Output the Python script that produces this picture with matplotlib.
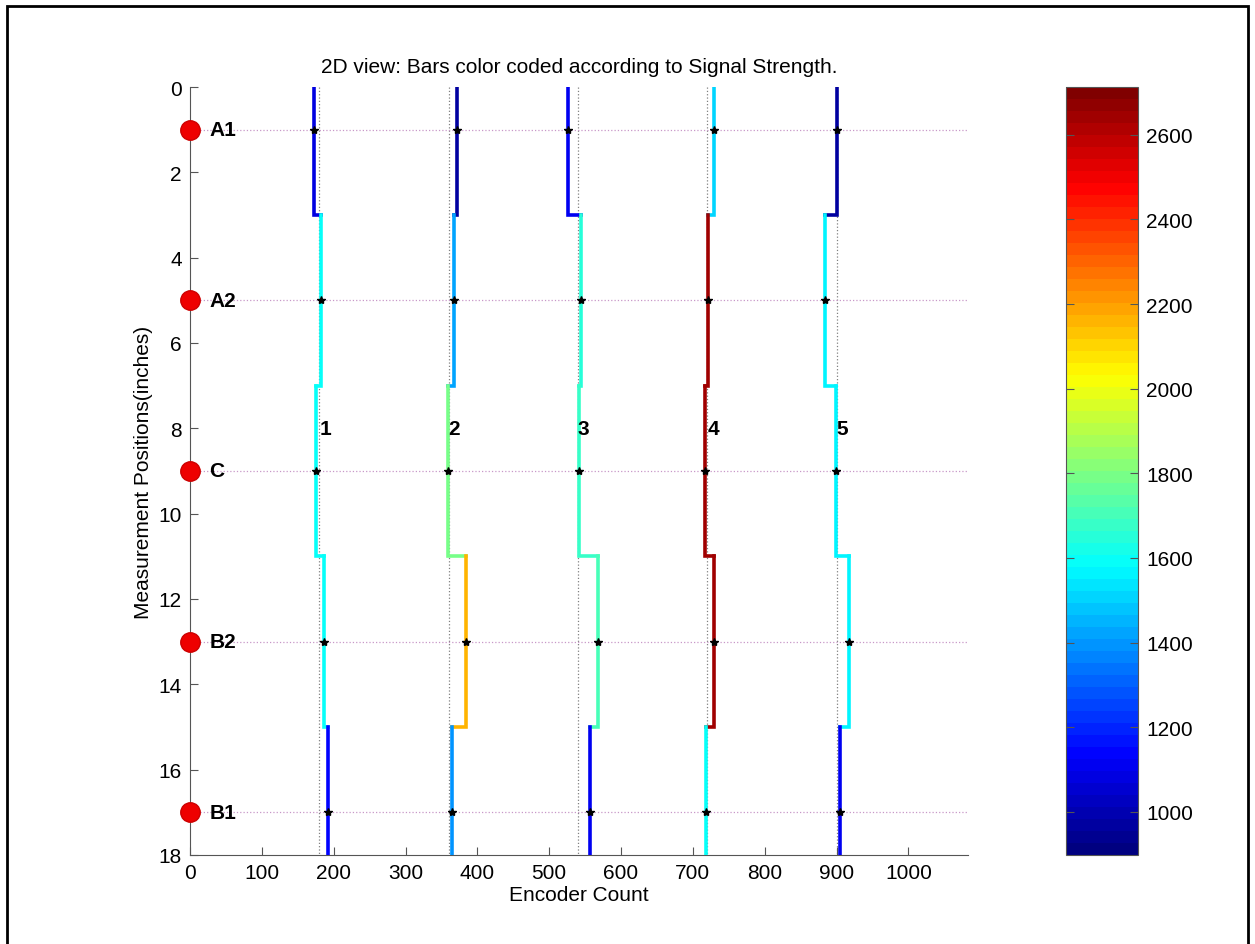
import matplotlib
matplotlib.use("Agg")
import matplotlib.pyplot as plt
from matplotlib.colors import LinearSegmentedColormap
from matplotlib.patches import Rectangle
import numpy as np

plt.rcParams['font.family'] = ['Liberation Sans', 'DejaVu Sans']

# measurement segment edges (inches) and marker positions
seg_edges = [0, 3, 7, 11, 15, 18]
meas_pos = [1, 5, 9, 13, 17]
meas_names = ["A1", "A2", "C", "B2", "B1"]

# nominal bar positions (encoder count) and bar labels
bar_nominal = [180, 360, 540, 720, 900]
bar_labels = ["1", "2", "3", "4", "5"]

# encoder count of each segment, per bar
bar1_x = [172, 183, 176, 187, 192]
bar2_x = [372, 367, 359, 384, 365]
bar3_x = [526, 544, 542, 568, 557]
bar4_x = [729, 721, 717, 729, 718]
bar5_x = [901, 884, 899, 918, 905]

# signal strength of each segment, per bar
bar1_s = [1090, 1590, 1600, 1600, 1130]
bar2_s = [975, 1420, 1800, 2150, 1400]
bar3_s = [1100, 1640, 1690, 1700, 1120]
bar4_s = [1520, 2650, 2650, 2650, 1600]
bar5_s = [965, 1560, 1560, 1570, 1110]

bars_x = [bar1_x, bar2_x, bar3_x, bar4_x, bar5_x]
bars_s = [bar1_s, bar2_s, bar3_s, bar4_s, bar5_s]

# MATLAB style jet, 64 levels
jet_nodes = [(0, (0, 0, 0.5)), (1/8, (0, 0, 1)), (3/8, (0, 1, 1)),
             (5/8, (1, 1, 0)), (7/8, (1, 0, 0)), (1, (0.5, 0, 0))]
cmap = LinearSegmentedColormap.from_list('mjet', jet_nodes, N=64)
cmin, cmax = 898, 2713
norm = matplotlib.colors.Normalize(cmin, cmax)

fig = plt.figure(figsize=(12.55, 9.45), dpi=100)
ax = fig.add_axes([190/1255, 89/945, 778/1255, 768/945])

# reference grid
for xv in bar_nominal:
    ax.plot([xv, xv], [0, 18], ls=':', color='#808080', lw=0.9, zorder=1)
for yv in meas_pos:
    ax.plot([0, 1083], [yv, yv], ls=':', color='#c898c8', lw=0.9, zorder=1)

# color coded bars
for xs, ss in zip(bars_x, bars_s):
    for i in range(len(xs)):
        c = cmap(norm(ss[i]))
        px = [xs[i], xs[i]]
        py = [seg_edges[i], seg_edges[i + 1]]
        if i < len(xs) - 1:
            px.append(xs[i + 1])
            py.append(seg_edges[i + 1])
        ax.plot(px, py, color=c, lw=2.6, solid_joinstyle='miter', zorder=3)
    ax.plot(xs, meas_pos, ls='none', marker='*', color='black', ms=6, zorder=4)

for xv, lab in zip(bar_nominal, bar_labels):
    ax.text(xv, 8, lab, fontsize=15, fontweight='bold', ha='left', va='center', zorder=5)

# measurement positions
ax.plot([0] * len(meas_pos), meas_pos, ls='none', marker='o', ms=14,
        mfc='#ee0000', mec='#cc0000', clip_on=False, zorder=6)
for yv, name in zip(meas_pos, meas_names):
    ax.text(27, yv, name, fontsize=15, fontweight='bold', ha='left', va='center')

ax.set_xlim(0, 1083)
ax.set_ylim(18, 0)
ax.set_xticks(np.arange(0, 1001, 100))
ax.set_yticks(np.arange(0, 19, 2))
for s in ['top', 'right']:
    ax.spines[s].set_visible(False)
for s in ['left', 'bottom']:
    ax.spines[s].set_color('#555555')
ax.tick_params(direction='in', length=6, color='#555555', labelsize=15, pad=6)
ax.set_xlabel("Encoder Count", fontsize=15, labelpad=2)
ax.set_ylabel("Measurement Positions(inches)", fontsize=15, labelpad=4)
ax.set_title("2D view: Bars color coded according to Signal Strength.", fontsize=15, pad=11)

# colorbar
cax = fig.add_axes([1066/1255, 89/945, 72/1255, 768/945])
sm = matplotlib.cm.ScalarMappable(norm=norm, cmap=cmap)
cb = fig.colorbar(sm, cax=cax)
cb.set_ticks(np.arange(1000, 2601, 200))
cax.tick_params(direction='in', length=6, color='#555555', labelsize=15,
                left=True, right=True, labelleft=False, labelright=True, pad=6)
cb.outline.set_edgecolor('#555555')

# figure frame
fig.patches.append(Rectangle((7/1255, -0.05), 1241/1255, 1.05 - 7/945,
                             transform=fig.transFigure, fill=False,
                             edgecolor='black', lw=2))

fig.savefig("out.png", dpi=100)
